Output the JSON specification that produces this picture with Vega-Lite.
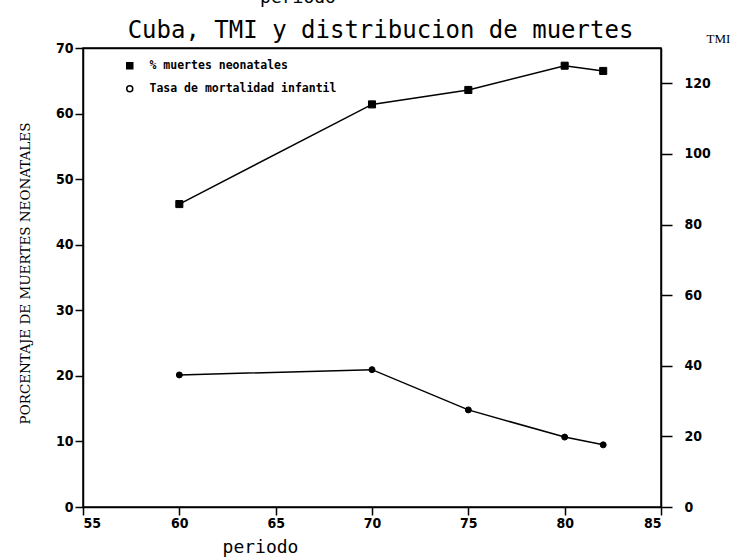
{
  "$schema": "https://vega.github.io/schema/vega-lite/v6.json",
  "width": 578,
  "height": 459,
  "autosize": {"type": "none"},
  "padding": {"left": 83, "top": 48, "right": 76, "bottom": 53},
  "background": "white",
  "config": {
    "view": {"stroke": "black", "strokeWidth": 1.5},
    "axis": {
      "grid": false,
      "domainColor": "black",
      "domainWidth": 1.5,
      "tickColor": "black",
      "tickWidth": 1.5,
      "labelColor": "black",
      "titleColor": "black",
      "labelFont": "Liberation Sans Narrow, DejaVu Sans Condensed, DejaVu Sans",
      "labelFontWeight": "bold",
      "labelFontSize": 14
    }
  },
  "title": {
    "text": "periodo",
    "font": "DejaVu Sans Mono",
    "fontSize": 18,
    "fontWeight": "normal",
    "color": "black",
    "anchor": "middle",
    "baseline": "alphabetic",
    "offset": -3,
    "dx": -74
  },
  "data": {
    "values": [
      {"periodo": 60, "serie": "% muertes neonatales", "valor": 46.2},
      {"periodo": 70, "serie": "% muertes neonatales", "valor": 61.4},
      {"periodo": 75, "serie": "% muertes neonatales", "valor": 63.6},
      {"periodo": 80, "serie": "% muertes neonatales", "valor": 67.3},
      {"periodo": 82, "serie": "% muertes neonatales", "valor": 66.5},
      {"periodo": 60, "serie": "Tasa de mortalidad infantil", "valor": 37.4},
      {"periodo": 70, "serie": "Tasa de mortalidad infantil", "valor": 38.9},
      {"periodo": 75, "serie": "Tasa de mortalidad infantil", "valor": 27.5},
      {"periodo": 80, "serie": "Tasa de mortalidad infantil", "valor": 19.8},
      {"periodo": 82, "serie": "Tasa de mortalidad infantil", "valor": 17.6}
    ]
  },
  "layer": [
    {
      "transform": [{"filter": "datum.serie === '% muertes neonatales'"}],
      "encoding": {
        "x": {
          "field": "periodo",
          "type": "quantitative",
          "scale": {"domain": [55, 85], "nice": false, "zero": false},
          "axis": {
            "orient": "bottom",
            "values": [55, 60, 65, 70, 75, 80, 85],
            "tickSize": 8,
            "labelPadding": 1,
            "title": "periodo",
            "titleFont": "DejaVu Sans Mono",
            "titleFontSize": 18,
            "titleFontWeight": "normal",
            "titleX": 177,
            "titleY": 45,
            "titleAlign": "center",
            "titleBaseline": "alphabetic"
          }
        },
        "y": {
          "field": "valor",
          "type": "quantitative",
          "scale": {"domain": [0, 70], "nice": false},
          "axis": {
            "orient": "left",
            "values": [0, 10, 20, 30, 40, 50, 60, 70],
            "tickSize": 8,
            "labelPadding": 2,
            "title": "PORCENTAJE DE MUERTES NEONATALES",
            "titleFont": "DejaVu Serif",
            "titleFontSize": 13.5,
            "titleFontWeight": "normal",
            "titleAngle": -90,
            "titleX": -58,
            "titleY": 225,
            "titleAlign": "center",
            "titleBaseline": "middle"
          }
        }
      },
      "layer": [
        {"mark": {"type": "line", "color": "black", "strokeWidth": 1.5}},
        {
          "mark": {"type": "point", "filled": true, "stroke": "black", "strokeWidth": 1, "size": 50, "opacity": 1},
          "encoding": {
            "shape": {
              "field": "serie",
              "type": "nominal",
              "scale": {
                "domain": ["% muertes neonatales", "Tasa de mortalidad infantil"],
                "range": ["square", "circle"]
              },
              "legend": {
                "title": null,
                "orient": "none",
                "legendX": 41,
                "legendY": 12,
                "padding": 0,
                "symbolSize": 36,
                "rowPadding": 10,
                "labelOffset": 14,
                "labelLimit": 400,
                "labelFont": "DejaVu Sans Mono",
                "labelFontWeight": "bold",
                "labelFontSize": 11.5,
                "labelColor": "black",
                "encode": {
                  "symbols": {
                    "update": {
                      "stroke": {"value": "black"},
                      "strokeWidth": {"value": 1.2}
                    }
                  }
                }
              }
            },
            "fill": {
              "field": "serie",
              "type": "nominal",
              "scale": {
                "domain": ["% muertes neonatales", "Tasa de mortalidad infantil"],
                "range": ["black", "white"]
              },
              "legend": {
                "title": null,
                "orient": "none",
                "legendX": 41,
                "legendY": 12,
                "padding": 0,
                "symbolSize": 36,
                "rowPadding": 10,
                "labelOffset": 14,
                "labelLimit": 400,
                "labelFont": "DejaVu Sans Mono",
                "labelFontWeight": "bold",
                "labelFontSize": 11.5,
                "labelColor": "black",
                "encode": {
                  "symbols": {
                    "update": {
                      "stroke": {"value": "black"},
                      "strokeWidth": {"value": 1.2}
                    }
                  }
                }
              }
            }
          }
        }
      ]
    },
    {
      "transform": [{"filter": "datum.serie === 'Tasa de mortalidad infantil'"}],
      "encoding": {
        "x": {
          "field": "periodo",
          "type": "quantitative",
          "scale": {"domain": [55, 85], "nice": false, "zero": false},
          "axis": {
            "orient": "top",
            "labels": false,
            "ticks": false,
            "title": "Cuba, TMI y distribucion de muertes",
            "titleFont": "DejaVu Sans Mono",
            "titleFontSize": 24,
            "titleFontWeight": "normal",
            "titleX": 297,
            "titleY": -11,
            "titleAlign": "center",
            "titleBaseline": "alphabetic"
          }
        },
        "y": {
          "field": "valor",
          "type": "quantitative",
          "scale": {"domain": [0, 130], "nice": false},
          "axis": {
            "orient": "right",
            "values": [0, 20, 40, 60, 80, 100, 120],
            "tickSize": 11,
            "labelPadding": 12,
            "title": "TMI",
            "titleFont": "Liberation Serif",
            "titleFontSize": 13,
            "titleFontWeight": "normal",
            "titleAngle": 0,
            "titleX": 57,
            "titleY": -10,
            "titleAlign": "center",
            "titleBaseline": "middle"
          }
        }
      },
      "layer": [
        {"mark": {"type": "line", "color": "black", "strokeWidth": 1.5}},
        {
          "mark": {"type": "point", "filled": true, "fill": "black", "stroke": "black", "strokeWidth": 1, "size": 36, "opacity": 1},
          "encoding": {
            "shape": {"field": "serie", "type": "nominal"}
          }
        }
      ]
    }
  ],
  "resolve": {"scale": {"y": "independent"}, "axis": {"x": "independent"}}
}
